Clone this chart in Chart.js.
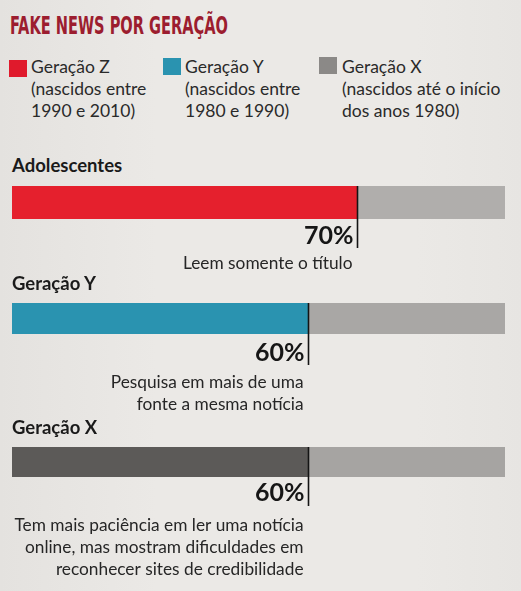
<!DOCTYPE html>
<html><head><meta charset="utf-8">
<script src="https://cdn.jsdelivr.net/npm/chart.js@4.4.1/dist/chart.umd.min.js"></script>
<style>
html,body{margin:0;padding:0;}
body{width:521px;height:591px;position:relative;overflow:hidden;background:linear-gradient(90deg,#e4e2df 0%,#ebe9e6 30%,#ebe9e6 80%,#e7e5e2 100%);font-family:Lato,"Open Sans",sans-serif;color:#1e1e1e;}
#title{position:absolute;left:10px;top:12px;font-family:"Liberation Sans Narrow","DejaVu Sans Condensed",sans-serif;font-weight:bold;font-size:24px;line-height:28px;color:#9c1d2f;white-space:nowrap;transform-origin:0 0;}
.lg{position:absolute;font-size:17.5px;line-height:22px;color:#2a2a2a;white-space:nowrap;}
.sw{position:absolute;width:18px;height:17px;}
.cat{position:absolute;left:12px;font-weight:bold;font-size:18.5px;color:#1a1a1a;white-space:nowrap;}
canvas{position:absolute;left:0;}
</style></head>
<body>
<div id="title">FAKE NEWS POR GERAÇÃO</div>
<div id="root"></div>
<script>
// ---- data ----
const categories = ['Adolescentes', 'Geração Y', 'Geração X'];
const values = [70, 60, 60];
const descriptions = [
  ['Leem somente o título'],
  ['Pesquisa em mais de uma', 'fonte a mesma notícia'],
  ['Tem mais paciência em ler uma notícia', 'online, mas mostram dificuldades em', 'reconhecer sites de credibilidade']
];
const legendNames = ['Geração Z', 'Geração Y', 'Geração X'];
const legendNotes = [
  ['(nascidos entre', '1990 e 2010)'],
  ['(nascidos entre', '1980 e 1990)'],
  ['(nascidos até o início', 'dos anos 1980)']
];
const axisMax = 100;

// ---- styles / layout ----
const barColors = ['#e5202d', '#2a93b0', '#5c5a58'];
const restColors = ['#b0aeac', '#a9a7a5', '#a6a4a2'];
const legendColors = ['#e01a2c', '#2a93b0', '#8b8987'];
const legendPos = [{sx:9, sy:60, tx:31}, {sx:163, sy:58, tx:185}, {sx:319, sy:57, tx:342}];
const rows = [
  {catY:154, top:180, padTop:6, barH:33, lineLen:62, pctBase:64, descY:83, canvasH:100},
  {catY:272, top:297, padTop:6, barH:31, lineLen:62, pctBase:64, descY:85, canvasH:120},
  {catY:416, top:441, padTop:6, barH:30, lineLen:59, pctBase:60, descY:84, canvasH:150}
];

const titleEl = document.getElementById('title');
const tw = titleEl.getBoundingClientRect().width;
titleEl.style.transform = 'scaleX(' + (218 / tw) + ')';

const root = document.getElementById('root');
legendNames.forEach((n, i) => {
  const p = legendPos[i];
  const sw = document.createElement('div');
  sw.className = 'sw'; sw.style.left = p.sx + 'px'; sw.style.top = p.sy + 'px'; sw.style.background = legendColors[i];
  root.appendChild(sw);
  const t = document.createElement('div');
  t.className = 'lg'; t.style.left = p.tx + 'px'; t.style.top = '56px';
  t.innerHTML = [n].concat(legendNotes[i]).join('<br>');
  root.appendChild(t);
});

const markerPlugin = {
  id: 'marker',
  afterDatasetsDraw(chart) {
    const o = chart.options.plugins.marker;
    const bar = chart.getDatasetMeta(0).data[0];
    const ctx = chart.ctx;
    const x = Math.round(bar.x) + 0.5;
    const top = chart.chartArea.top;
    ctx.save();
    ctx.strokeStyle = '#141414'; ctx.lineWidth = 1.6;
    ctx.beginPath(); ctx.moveTo(x, top); ctx.lineTo(x, top + o.lineLen); ctx.stroke();
    ctx.fillStyle = '#161616';
    ctx.font = 'bold 25px Lato, "Open Sans", sans-serif';
    ctx.textAlign = 'right'; ctx.textBaseline = 'alphabetic';
    ctx.fillText(o.value + '%', x - 4, o.pctBase);
    ctx.font = '17.3px Lato, "Open Sans", sans-serif';
    ctx.fillStyle = '#262626';
    ctx.textBaseline = 'middle';
    o.desc.forEach((line, k) => ctx.fillText(line, x - 5, o.descY + k * 22));
    ctx.restore();
  }
};

categories.forEach((c, i) => {
  const r = rows[i];
  const lab = document.createElement('div');
  lab.className = 'cat'; lab.style.top = r.catY + 'px'; lab.textContent = c;
  root.appendChild(lab);
  const cv = document.createElement('canvas');
  cv.width = 521; cv.height = r.canvasH;
  cv.style.top = r.top + 'px'; cv.style.width = '521px'; cv.style.height = r.canvasH + 'px';
  root.appendChild(cv);
  new Chart(cv, {
    type: 'bar',
    data: {
      labels: [c],
      datasets: [
        {data: [values[i]], backgroundColor: barColors[i], borderWidth: 0, barPercentage: 1, categoryPercentage: 1},
        {data: [axisMax - values[i]], backgroundColor: restColors[i], borderWidth: 0, barPercentage: 1, categoryPercentage: 1}
      ]
    },
    options: {
      indexAxis: 'y', responsive: false, animation: false, devicePixelRatio: 1,
      layout: {padding: {left: 12, right: 16, top: r.padTop, bottom: r.canvasH - r.padTop - r.barH}},
      scales: {
        x: {stacked: true, min: 0, max: axisMax, display: false},
        y: {stacked: true, display: false}
      },
      plugins: {
        legend: {display: false}, tooltip: {enabled: false},
        marker: {value: values[i], desc: descriptions[i], lineLen: r.lineLen, pctBase: r.pctBase, descY: r.descY}
      }
    },
    plugins: [markerPlugin]
  });
});
</script>
</body></html>
